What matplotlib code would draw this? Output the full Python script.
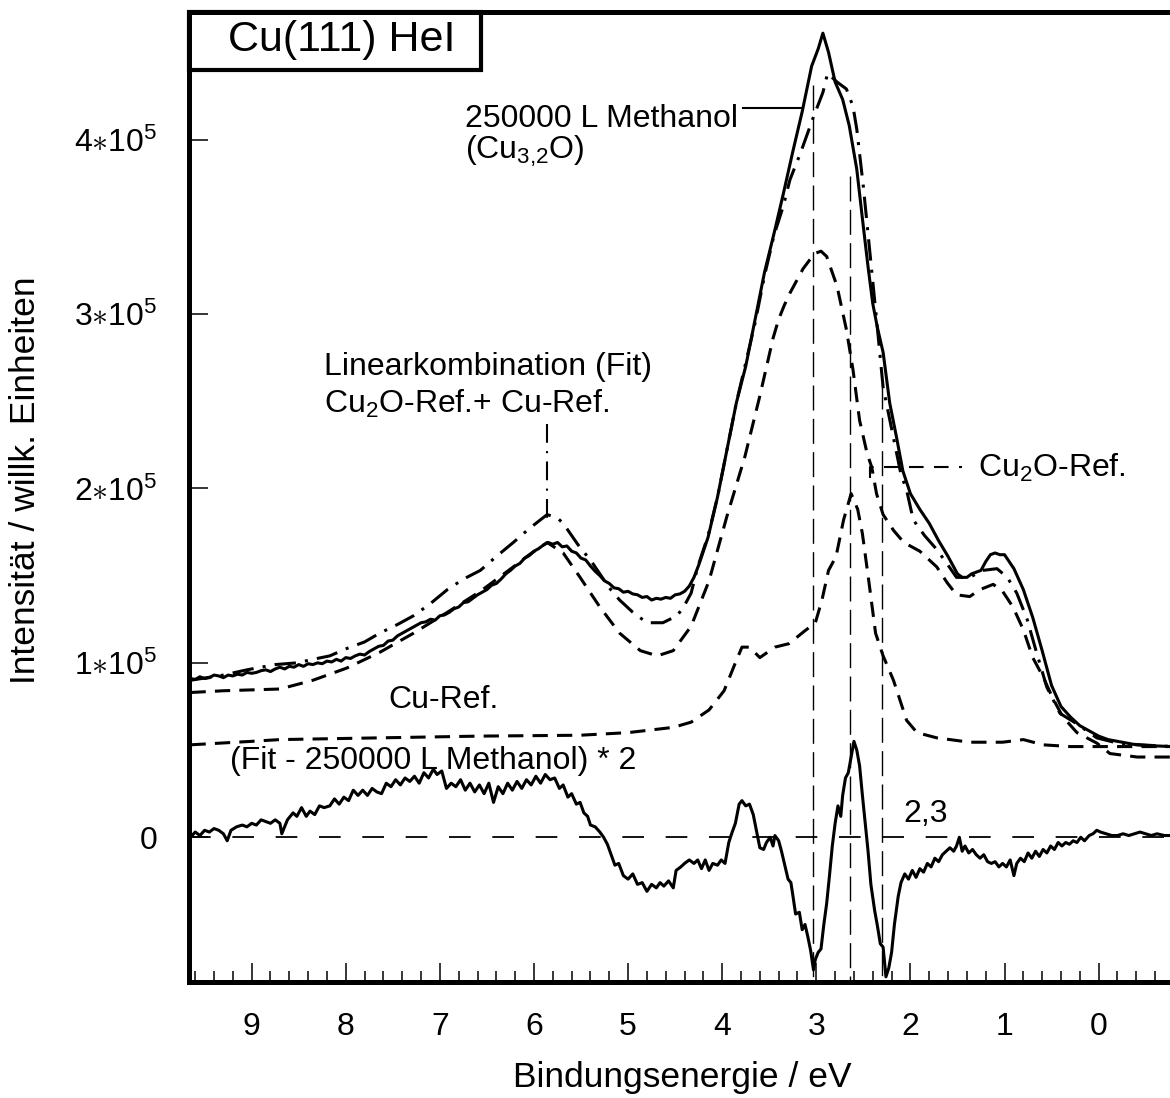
import matplotlib.pyplot as plt
from matplotlib.patches import Rectangle
from matplotlib.ticker import MultipleLocator

plt.rcParams.update({
    "font.family": ["Liberation Sans", "DejaVu Sans"],
    "mathtext.fontset": "custom",
    "mathtext.rm": "Liberation Sans",
    "mathtext.it": "Liberation Sans:italic",
    "mathtext.bf": "Liberation Sans:bold",
    "font.size": 23,
})

# intensities in units of 10^5 (arb. units), binding energy in eV

# 250000 L Methanol (measured)
meas_ev = [9.65, 9.60, 9.55, 9.50, 9.45, 9.40, 9.35, 9.30, 9.25, 9.20, 9.15, 9.10, 9.05, 9.00,
           8.95, 8.90, 8.85, 8.80, 8.75, 8.70, 8.65, 8.60, 8.55, 8.50, 8.45, 8.40, 8.35, 8.30,
           8.25, 8.20, 8.15, 8.10, 8.05, 8.00, 7.95, 7.90, 7.85, 7.80, 7.75, 7.70, 7.65, 7.60,
           7.55, 7.50, 7.45, 7.40, 7.35, 7.30, 7.25, 7.20, 7.15, 7.10, 7.05, 7.00, 6.95, 6.90,
           6.85, 6.80, 6.75, 6.70, 6.65, 6.60, 6.55, 6.50, 6.45, 6.40, 6.35, 6.30, 6.25, 6.20,
           6.15, 6.10, 6.05, 6.00, 5.95, 5.90, 5.85, 5.80, 5.75, 5.70, 5.65, 5.60, 5.55, 5.50,
           5.45, 5.40, 5.35, 5.30, 5.25, 5.20, 5.15, 5.10, 5.05, 5.00, 4.95, 4.90, 4.85, 4.80,
           4.75, 4.70, 4.65, 4.60, 4.55, 4.50, 4.45, 4.40, 4.35, 4.30, 4.25, 4.15,
           4.05, 3.95, 3.85, 3.75, 3.65, 3.55, 3.45, 3.35, 3.25, 3.15, 3.05, 2.98, 2.93, 2.87,
           2.80, 2.72, 2.65, 2.57, 2.50, 2.45, 2.40, 2.35, 2.29, 2.22, 2.15, 2.08, 2.00, 1.90,
           1.80, 1.70, 1.60, 1.50, 1.45, 1.40, 1.35, 1.30, 1.25, 1.20, 1.15, 1.10, 1.05, 1.00,
           0.95, 0.90, 0.80, 0.70, 0.60, 0.50, 0.40, 0.30, 0.20, 0.10, 0.00, -0.10, -0.25,
           -0.40, -0.55, -0.78]
meas_int = [0.91, 0.905, 0.92, 0.91, 0.915, 0.93, 0.925, 0.915, 0.93, 0.925, 0.935, 0.93, 0.945, 0.94,
            0.945, 0.955, 0.96, 0.95, 0.965, 0.975, 0.965, 0.98, 0.975, 0.99, 0.98, 0.995, 0.99, 1.00,
            0.995, 1.01, 1.005, 1.02, 1.01, 1.03, 1.025, 1.04, 1.05, 1.045, 1.065, 1.08, 1.095, 1.10,
            1.125, 1.13, 1.155, 1.17, 1.185, 1.20, 1.215, 1.23, 1.235, 1.25, 1.245, 1.27, 1.275, 1.29,
            1.31, 1.32, 1.345, 1.35, 1.37, 1.39, 1.405, 1.42, 1.445, 1.455, 1.48, 1.51, 1.53, 1.555,
            1.57, 1.60, 1.615, 1.64, 1.655, 1.675, 1.69, 1.68, 1.69, 1.665, 1.67, 1.64, 1.63, 1.60,
            1.59, 1.555, 1.525, 1.50, 1.47, 1.455, 1.43, 1.425, 1.405, 1.41, 1.395, 1.39, 1.375, 1.38,
            1.36, 1.37, 1.365, 1.375, 1.37, 1.39, 1.395, 1.41, 1.44, 1.49, 1.56, 1.72,
            1.95, 2.22, 2.49, 2.70, 2.97, 3.24, 3.46, 3.69, 3.93, 4.16, 4.42, 4.52, 4.61, 4.50,
            4.33, 4.23, 4.08, 3.83, 3.50, 3.27, 3.06, 2.92, 2.78, 2.49, 2.30, 2.10, 1.97, 1.88,
            1.80, 1.70, 1.61, 1.51, 1.49, 1.49, 1.51, 1.52, 1.53, 1.58, 1.62, 1.63, 1.62, 1.62,
            1.58, 1.54, 1.42, 1.26, 1.07, 0.87, 0.75, 0.69, 0.64, 0.61, 0.58, 0.56, 0.545,
            0.53, 0.525, 0.52]

# Linearkombination (Fit)
fit_ev = [9.65, 9.30, 9.05, 8.75, 8.52, 8.35, 8.17, 8.00, 7.80, 7.64, 7.45, 7.28, 7.10, 6.92,
          6.75, 6.57, 6.40, 6.22, 6.05, 5.86, 5.75, 5.69, 5.60, 5.51, 5.40, 5.30, 5.20, 5.09,
          4.95, 4.80, 4.63, 4.48, 4.41, 4.33, 4.26, 4.15, 4.05, 3.95, 3.85, 3.75, 3.65, 3.55,
          3.45, 3.35, 3.28, 3.17, 3.03, 2.93, 2.88, 2.78, 2.68, 2.61, 2.57, 2.50, 2.43, 2.36,
          2.29, 2.18, 2.10, 2.04, 1.97, 1.85, 1.72, 1.60, 1.51, 1.37, 1.23, 1.08, 0.97, 0.87,
          0.76, 0.66, 0.55, 0.41, 0.23, 0.02, -0.20, -0.45, -0.78]
fit_int = [0.90, 0.93, 0.96, 0.99, 1.00, 1.02, 1.04, 1.08, 1.12, 1.17, 1.22, 1.27, 1.34, 1.42,
           1.48, 1.53, 1.61, 1.69, 1.77, 1.85, 1.83, 1.80, 1.73, 1.66, 1.59, 1.51, 1.43, 1.36,
           1.29, 1.23, 1.23, 1.27, 1.32, 1.40, 1.55, 1.73, 1.95, 2.22, 2.49, 2.72, 2.95, 3.22,
           3.45, 3.62, 3.77, 3.92, 4.13, 4.27, 4.38, 4.33, 4.29, 4.19, 4.06, 3.73, 3.35, 2.97,
           2.58, 2.29, 2.08, 1.99, 1.82, 1.73, 1.65, 1.56, 1.49, 1.49, 1.53, 1.54, 1.49, 1.40,
           1.25, 1.06, 0.86, 0.71, 0.65, 0.57, 0.54, 0.53, 0.52]

# Cu2O-Ref.
cu2o_ev = [9.65, 9.30, 8.70, 8.35, 7.99, 7.64, 7.28, 6.92, 6.57, 6.22, 6.05, 5.86, 5.69, 5.51,
           5.30, 5.09, 4.87, 4.69, 4.52, 4.33, 4.14, 3.95, 3.76, 3.60, 3.46, 3.40, 3.34, 3.28,
           3.20, 3.14, 3.07, 3.00, 2.95, 2.89, 2.78, 2.68, 2.61, 2.54, 2.46, 2.41, 2.36, 2.29,
           2.18, 2.07, 1.90, 1.72, 1.61, 1.51, 1.37, 1.26, 1.12, 1.02, 0.91, 0.80, 0.70, 0.59,
           0.49, 0.38, 0.23, 0.02, -0.12, -0.41, -0.78]
cu2o_int = [0.83, 0.84, 0.85, 0.90, 0.97, 1.06, 1.17, 1.29, 1.41, 1.55, 1.62, 1.69, 1.63, 1.49,
            1.32, 1.17, 1.07, 1.04, 1.07, 1.21, 1.47, 1.84, 2.18, 2.53, 2.86, 2.97, 3.05, 3.12,
            3.20, 3.26, 3.31, 3.35, 3.36, 3.33, 3.16, 2.91, 2.68, 2.39, 2.20, 2.12, 1.97, 1.85,
            1.76, 1.69, 1.64, 1.55, 1.46, 1.39, 1.38, 1.42, 1.45, 1.41, 1.32, 1.19, 1.03, 0.92,
            0.80, 0.69, 0.60, 0.54, 0.48, 0.46, 0.46]

# Cu-Ref.
cu_ev = [9.65, 9.00, 8.70, 7.64, 6.57, 5.51, 5.00, 4.52, 4.33, 4.14, 3.98, 3.86, 3.79, 3.71,
         3.60, 3.44, 3.29, 3.13, 3.01, 2.94, 2.87, 2.79, 2.71, 2.63, 2.56, 2.51, 2.44, 2.37,
         2.29, 2.18, 2.04, 1.93, 1.72, 1.37, 1.02, 0.80, 0.59, 0.30, -0.78]
cu_int = [0.53, 0.55, 0.56, 0.57, 0.58, 0.585, 0.60, 0.63, 0.66, 0.73, 0.84, 1.00, 1.09, 1.09,
          1.03, 1.09, 1.11, 1.18, 1.23, 1.36, 1.53, 1.61, 1.82, 1.97, 1.88, 1.74, 1.46, 1.17,
          1.04, 0.90, 0.67, 0.60, 0.57, 0.545, 0.545, 0.56, 0.53, 0.52, 0.52]

# (Fit - 250000 L Methanol) * 2
diff_ev = [9.65, 9.60, 9.55, 9.50, 9.45, 9.40, 9.35, 9.30, 9.26, 9.22, 9.16, 9.10, 9.05, 9.00,
           8.95, 8.90, 8.85, 8.80, 8.75, 8.70, 8.68, 8.62, 8.56, 8.52, 8.47, 8.42, 8.38, 8.33,
           8.28, 8.23, 8.17, 8.12, 8.07, 8.02, 7.97, 7.92, 7.87, 7.82, 7.77, 7.72, 7.67, 7.62,
           7.57, 7.52, 7.47, 7.42, 7.37, 7.32, 7.27, 7.22, 7.17, 7.12, 7.07, 7.03, 6.98, 6.93,
           6.88, 6.83, 6.78, 6.73, 6.68, 6.63, 6.58, 6.53, 6.48, 6.43, 6.38, 6.33, 6.28, 6.23,
           6.18, 6.13, 6.08, 6.03, 5.98, 5.93, 5.88, 5.83, 5.78, 5.73, 5.69, 5.64, 5.60, 5.55,
           5.51, 5.47, 5.43, 5.40, 5.35, 5.30, 5.26, 5.22, 5.18, 5.14, 5.10, 5.05, 5.00, 4.95,
           4.90, 4.85, 4.80, 4.75, 4.70, 4.66, 4.62, 4.57, 4.52, 4.49, 4.44, 4.40, 4.35, 4.30,
           4.26, 4.22, 4.18, 4.14, 4.10, 4.05, 4.01, 3.97, 3.93, 3.90, 3.86, 3.82, 3.79, 3.75,
           3.71, 3.67, 3.63, 3.60, 3.56, 3.53, 3.49, 3.46, 3.44, 3.40, 3.37, 3.33, 3.30, 3.27,
           3.25, 3.22, 3.18, 3.15, 3.12, 3.09, 3.06, 3.03, 3.01, 2.98, 2.95, 2.92, 2.89, 2.86,
           2.83, 2.80, 2.77, 2.74, 2.72, 2.69, 2.66, 2.63, 2.60, 2.57, 2.54, 2.51, 2.48, 2.45,
           2.42, 2.38, 2.35, 2.32, 2.29, 2.26, 2.23, 2.20, 2.17, 2.13, 2.10, 2.06, 2.02, 1.98,
           1.94, 1.90, 1.86, 1.82, 1.78, 1.74, 1.70, 1.66, 1.62, 1.58, 1.54, 1.51, 1.48, 1.45,
           1.42, 1.38, 1.34, 1.30, 1.26, 1.22, 1.18, 1.14, 1.10, 1.06, 1.02, 0.98, 0.94, 0.90,
           0.87, 0.83, 0.79, 0.75, 0.71, 0.67, 0.63, 0.59, 0.55, 0.51, 0.47, 0.43, 0.39, 0.35,
           0.31, 0.27, 0.23, 0.19, 0.15, 0.10, 0.06, 0.02, -0.02, -0.08, -0.14, -0.20, -0.26,
           -0.32, -0.38, -0.44, -0.50, -0.56, -0.62, -0.70, -0.78]
diff_int = [0.00, 0.03, 0.01, 0.04, 0.03, 0.05, 0.04, 0.02, -0.02, 0.04, 0.06, 0.07, 0.06, 0.08,
            0.07, 0.10, 0.09, 0.08, 0.10, 0.08, 0.02, 0.10, 0.14, 0.12, 0.17, 0.12, 0.15, 0.13,
            0.18, 0.17, 0.18, 0.22, 0.19, 0.23, 0.21, 0.27, 0.24, 0.27, 0.24, 0.28, 0.26, 0.25,
            0.31, 0.29, 0.33, 0.30, 0.34, 0.32, 0.35, 0.31, 0.37, 0.34, 0.39, 0.36, 0.38, 0.28,
            0.31, 0.29, 0.33, 0.27, 0.31, 0.26, 0.30, 0.25, 0.31, 0.20, 0.29, 0.25, 0.31, 0.27,
            0.32, 0.28, 0.33, 0.30, 0.35, 0.31, 0.36, 0.33, 0.34, 0.28, 0.30, 0.23, 0.25, 0.19,
            0.20, 0.14, 0.12, 0.07, 0.06, 0.03, 0.00, -0.04, -0.10, -0.16, -0.15, -0.22, -0.24, -0.21,
            -0.27, -0.26, -0.31, -0.27, -0.29, -0.26, -0.28, -0.25, -0.29, -0.19, -0.17, -0.15, -0.13, -0.15,
            -0.13, -0.18, -0.13, -0.19, -0.15, -0.16, -0.13, -0.15, -0.03, 0.02, 0.08, 0.19, 0.21, 0.18,
            0.19, 0.13, 0.02, -0.06, -0.07, -0.03, 0.00, -0.05, 0.01, -0.02, -0.08, -0.17, -0.24, -0.26,
            -0.33, -0.44, -0.43, -0.53, -0.50, -0.57, -0.65, -0.76, -0.70, -0.66, -0.64, -0.50, -0.38, -0.22,
            -0.05, 0.08, 0.18, 0.12, 0.24, 0.34, 0.37, 0.46, 0.55, 0.50, 0.41, 0.24, 0.08, -0.08,
            -0.27, -0.42, -0.51, -0.61, -0.63, -0.80, -0.75, -0.66, -0.50, -0.34, -0.26, -0.21, -0.24, -0.19,
            -0.23, -0.18, -0.20, -0.15, -0.17, -0.12, -0.14, -0.10, -0.08, -0.06, -0.08, -0.05, 0.00, -0.08,
            -0.05, -0.09, -0.07, -0.10, -0.12, -0.10, -0.14, -0.15, -0.14, -0.17, -0.15, -0.17, -0.13, -0.22,
            -0.15, -0.12, -0.14, -0.09, -0.12, -0.08, -0.11, -0.07, -0.09, -0.05, -0.07, -0.03, -0.05, -0.03,
            -0.04, -0.02, -0.03, 0.00, -0.02, 0.01, 0.02, 0.04, 0.03, 0.02, 0.01, 0.01, 0.02,
            0.01, 0.02, 0.03, 0.02, 0.01, 0.02, 0.01, 0.01]

# vertical markers (eV) and the intensity where each starts
marker_ev = [3.03, 2.64, 2.30]
marker_top = [4.31, 3.79, 2.60]

x_ticks = [9, 8, 7, 6, 5, 4, 3, 2, 1, 0]
y_ticks = [0, 1, 2, 3, 4]
y_tick_labels = ["0", r"$1{\ast}10^{5}$", r"$2{\ast}10^{5}$", r"$3{\ast}10^{5}$", r"$4{\ast}10^{5}$"]

LW = 2.2
fig = plt.figure(figsize=(11.70, 10.98), dpi=100)
ax = fig.add_axes([189 / 1170, (1098 - 981.7) / 1098, 984.9 / 1170, 970 / 1098])

ax.plot(meas_ev, meas_int, color="black", lw=LW)
ax.plot(fit_ev, fit_int, color="black", lw=LW, ls=(0, (7, 3, 1, 3)))
ax.plot(cu2o_ev, cu2o_int, color="black", lw=LW, ls=(0, (5, 3)))
ax.plot(cu_ev, cu_int, color="black", lw=LW, ls=(0, (5, 3)))
ax.plot(diff_ev, diff_int, color="black", lw=LW)
ax.axhline(0, color="black", lw=1.3, ls=(0, (12, 12)))
for xv, top in zip(marker_ev, marker_top):
    ax.plot([xv, xv], [top, -0.83], color="black", lw=1.0, ls=(0, (18, 6)))

# leaders
ax.plot([3.78, 3.14], [4.18, 4.18], color="black", lw=1.5)
ax.plot([5.86, 5.86], [2.37, 1.80], color="black", lw=1.5, ls=(0, (9, 4, 1, 4)))
ax.plot([2.43, 2.43, 1.45], [2.06, 2.12, 2.12], color="black", lw=1.5, ls=(0, (7, 5)))

fs = 23
ax.text(6.734, 4.074, "250000 L Methanol", fontsize=fs, va="baseline")
ax.text(6.734, 3.89, r"(Cu$_{3{,}2}$O)", fontsize=fs, va="baseline")
ax.text(8.233, 2.651, "Linearkombination (Fit)", fontsize=fs, va="baseline")
ax.text(8.233, 2.433, r"Cu$_2$O-Ref.+ Cu-Ref.", fontsize=fs, va="baseline")
ax.text(1.283, 2.067, r"Cu$_2$O-Ref.", fontsize=fs, va="baseline")
ax.text(7.55, 0.742, "Cu-Ref.", fontsize=fs, va="baseline")
ax.text(9.23, 0.393, "(Fit - 250000 L Methanol) * 2", fontsize=fs, va="baseline")
ax.text(2.07, 0.088, "2,3", fontsize=fs, va="baseline")

# title box
ax.add_patch(Rectangle((0, 0.9399), 0.2965, 0.0601, transform=ax.transAxes,
                       fill=False, lw=3, ec="black", clip_on=False, zorder=5))
ax.text(0.155, 0.9708, "Cu(111) HeI", transform=ax.transAxes, fontsize=31,
        ha="center", va="center")

ax.set_xlim(9.666, -0.80)
ax.set_ylim(-0.828, 4.733)
ax.set_xticks(x_ticks)
ax.xaxis.set_minor_locator(MultipleLocator(0.2))
ax.set_yticks(y_ticks)
ax.set_yticklabels(y_tick_labels)
ax.tick_params(axis="x", which="major", direction="in", length=13.7, width=1.1,
               pad=22, labelsize=23, top=False)
ax.tick_params(axis="x", which="minor", direction="in", length=8, width=1.1, top=False)
ax.tick_params(axis="y", which="major", direction="in", length=13.7, width=1.1,
               pad=23, labelsize=23, right=False)
for side in ["top", "left", "bottom"]:
    ax.spines[side].set_linewidth(3.6)
ax.spines["right"].set_visible(False)

fig.text(682.5 / 1170, 1 - 1086.7 / 1098, "Bindungsenergie / eV", fontsize=25.5,
         ha="center", va="baseline")
fig.text(26 / 1170, 1 - 480 / 1098, "Intensität / willk. Einheiten", fontsize=25.5,
         ha="center", va="center", rotation=90)

fig.savefig("out.png", dpi=100)
